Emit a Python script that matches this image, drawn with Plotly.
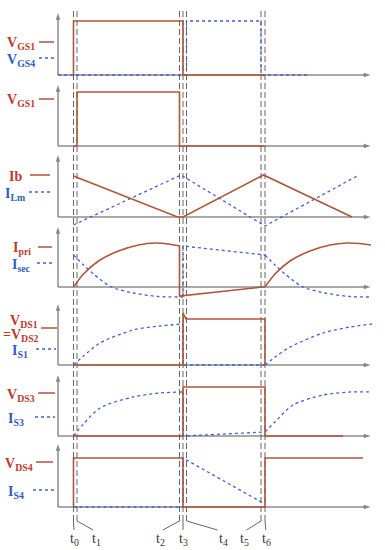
import plotly.graph_objects as go

# ---------------- data (time in arbitrary units, t0 = 0) ----------------
t_marks = [0, 3.5, 106, 109.5, 113, 187.5, 191.5]
t_labels = ["t<sub>0</sub>", "t<sub>1</sub>", "t<sub>2</sub>", "t<sub>3</sub>",
            "t<sub>4</sub>", "t<sub>5</sub>", "t<sub>6</sub>"]

# panel 1
vgs1_t = [0, 0, 109.5, 109.5, 191.5]
vgs1_v = [0, 54, 54, 0, 0]
vgs4_t = [-15.5, 113, 113, 187.5, 187.5, 236]
vgs4_v = [0, 0, 54, 54, 0, 0]
# panel 2
vgs1b_t = [0, 3.5, 3.5, 106, 106, 191.5]
vgs1b_v = [0, 0, 54, 54, 0, 0]
# panel 3
ib_t = [0, 104, 109.5, 190, 278.5]
ib_v = [41, 0, 0, 42, 0]
ilm_t = [0, 107.5, 191.5, 285.5]
ilm_v = [-8, 42, -9, 42]
# panel 4
ipri1_t = [0, 10, 25, 45, 65, 82, 95, 106]
ipri1_v = [0, 13, 26, 36, 42, 44, 43, 41]
ipri2_t = [106, 106, 189, 191.5]
ipri2_v = [41, -9, 0, 0]
ipri3_t = [191.5, 201.5, 216.5, 236.5, 256.5, 273.5, 286, 297.5]
ipri3_v = [0, 13, 26, 36, 42, 44, 43.5, 42]
isec1_t = [0, 10, 20, 38, 60, 85, 109.5]
isec1_v = [32, 22, 13, 0, -6, -9.5, -10]
isec2_t = [109.5, 109.5, 191.5]
isec2_v = [-10, 41, 32]
isec3_t = [191.5, 201.5, 211.5, 229.5, 251.5, 276.5, 298.5]
isec3_v = [32, 22, 13, 0, -6, -9.5, -10]
# panel 5
vds1_t = [0, 109.5, 109.5, 112.5, 191.5, 191.5]
vds1_v = [0, 0, 52, 46, 46, 0]
is1a_t = [0, 10, 26.5, 59.5, 86.5, 109.5]
is1a_v = [0, 9, 22, 35, 39, 41]
is1b_t = [109.5, 109.5, 191.5]
is1b_v = [41, 0, 0]
is1c_t = [191.5, 201.5, 216.5, 249.5, 276.5, 298.5]
is1c_v = [0, 8, 18, 32, 38, 41]
# panel 6
vds3_t = [0, 109.5, 109.5, 191.5, 191.5, 269.5]
vds3_v = [0, 0, 49, 49, 0, 0]
is3a_t = [0, 10, 26.5, 59.5, 86.5, 109.5]
is3a_v = [0, 12, 28, 39, 43, 44]
is3b_t = [109.5, 109.5, 191.5]
is3b_v = [44, 0, 4]
is3c_t = [191.5, 201.5, 219.5, 249.5, 276.5, 298.5]
is3c_v = [4, 14, 31, 41, 44, 44]
# panel 7
vds4_t = [0, 0, 109.5, 109.5, 191.5, 191.5, 289.5]
vds4_v = [0, 49, 49, 0, 0, 49, 49]
is4_t = [0, 109.5, 109.5, 189.5]
is4_v = [0, 0, 49, 4]

# ---------------- layout helpers ----------------
W, H = 385, 550
X_LEFT = -73.5          # time value at the left edge of the picture
AX_X0, AX_X1 = -15.5, 297
# (baseline px, arrow-top px) for each panel
panels = [(75, 13), (146, 85), (217, 155), (287, 227), (365, 304), (436, 375), (507, 444)]

SOLID = "#b0553a"
BLUE = "#3f63c9"
RED_TXT = "#c0392b"
BLUE_TXT = "#2f5cc0"
AXC = "#555555"

def py(px):
    return 1 - px / H

fig = go.Figure()

def yname(panel):
    return "y" if panel == 1 else f"y{panel}"

def add(panel, t, v, solid, shape="linear"):
    fig.add_trace(go.Scatter(
        x=t, y=v, mode="lines", xaxis="x", yaxis=yname(panel),
        line=dict(color=SOLID if solid else BLUE, width=1.6 if solid else 1.3,
                  dash="solid" if solid else "dot", shape=shape, smoothing=0.8),
        hoverinfo="skip", showlegend=False))

# axes with arrowheads (drawn first, under the signals)
for i, (base, top) in enumerate(panels, start=1):
    for xs, ys in (([AX_X0, AX_X0], [0, base - top]), ([AX_X0, AX_X1], [0, 0])):
        fig.add_trace(go.Scatter(
            x=xs, y=ys, mode="lines+markers", xaxis="x", yaxis=yname(i),
            line=dict(color=AXC, width=1),
            marker=dict(symbol=["circle", "arrow"], size=[0, 7], color=AXC, angleref="previous",
                        line=dict(width=0)),
            hoverinfo="skip", showlegend=False, cliponaxis=False))

add(1, vgs4_t, vgs4_v, False)
add(1, vgs1_t, vgs1_v, True)
add(2, vgs1b_t, vgs1b_v, True)
add(3, ilm_t, ilm_v, False)
add(3, ib_t, ib_v, True)
add(4, isec1_t, isec1_v, False, "spline")
add(4, isec2_t, isec2_v, False)
add(4, isec3_t, isec3_v, False, "spline")
add(4, ipri1_t, ipri1_v, True, "spline")
add(4, ipri2_t, ipri2_v, True)
add(4, ipri3_t, ipri3_v, True, "spline")
add(5, is1a_t, is1a_v, False, "spline")
add(5, is1b_t, is1b_v, False)
add(5, is1c_t, is1c_v, False, "spline")
add(5, vds1_t, vds1_v, True)
add(6, is3a_t, is3a_v, False, "spline")
add(6, is3b_t, is3b_v, False)
add(6, is3c_t, is3c_v, False, "spline")
add(6, vds3_t, vds3_v, True)
add(7, is4_t, is4_v, False)
add(7, vds4_t, vds4_v, True)

layout = dict(
    width=W, height=H, margin=dict(l=0, r=0, t=0, b=0),
    paper_bgcolor="white", plot_bgcolor="rgba(0,0,0,0)",
    xaxis=dict(domain=[0, 1], range=[X_LEFT, X_LEFT + W], visible=False, fixedrange=True),
)
annotations = []
shapes = []
for i, (base, top) in enumerate(panels, start=1):
    name = "yaxis" if i == 1 else f"yaxis{i}"
    lo_px, hi_px = base + 14, top - 6
    layout[name] = dict(domain=[py(lo_px), py(hi_px)], range=[base - lo_px, base - hi_px],
                        visible=False, fixedrange=True, anchor="x")

# dashed time markers
for tm in t_marks:
    shapes.append(dict(type="line", xref="x", yref="paper", x0=tm, x1=tm,
                       y0=py(521), y1=py(9), layer="below",
                       line=dict(color="#666666", width=1, dash="6px,3px")))

# time labels and leader lines
lab_px = [74, 96, 160, 183, 223, 244, 266]
for tm, lx, txt in zip(t_marks, lab_px, t_labels):
    annotations.append(dict(x=lx / W, y=py(539), xref="paper", yref="paper", text=txt,
                            xanchor="center", yanchor="middle",
                            showarrow=False, font=dict(family="Liberation Serif", size=14, color="#333")))
    shapes.append(dict(type="line", xref="x", yref="paper", x0=tm, x1=tm + (lx - 73.5 - tm) * 0.85,
                       y0=py(521), y1=py(530), line=dict(color="#666", width=1)))

# signal labels (text, px x right edge, px y, colour) and legend keys
labels = [
    ("V<sub>GS1</sub>", 37, 42, RED_TXT, True, 39, 54),
    ("V<sub>GS4</sub>", 37, 58, BLUE_TXT, False, 39, 55),
    ("V<sub>GS1</sub>", 37, 99, RED_TXT, True, 39, 54),
    ("Ib", 24, 175, RED_TXT, True, 30, 50),
    ("I<sub>Lm</sub>", 27, 192, BLUE_TXT, False, 29, 50),
    ("I<sub>pri</sub>", 33, 247, RED_TXT, True, 38, 52),
    ("I<sub>sec</sub>", 33, 263, BLUE_TXT, False, 37, 52),
    ("I<sub>S1</sub>", 30, 349, BLUE_TXT, False, 36, 56),
    ("V<sub>DS3</sub>", 37, 393, RED_TXT, True, 38, 55),
    ("I<sub>S3</sub>", 26, 417, BLUE_TXT, False, 35, 55),
    ("V<sub>DS4</sub>", 35, 462, RED_TXT, True, 36, 53),
    ("I<sub>S4</sub>", 26, 490, BLUE_TXT, False, 33, 55),
]
fnt = "Liberation Serif"

def label(txt, xr, yc, col):
    annotations.append(dict(x=xr / W, y=py(yc), xref="paper", yref="paper", text="<b>" + txt + "</b>",
                            xanchor="right", yanchor="middle", showarrow=False,
                            font=dict(family=fnt, size=14, color=col)))

for txt, xr, yc, col, solid, k0, k1 in labels:
    label(txt, xr, yc + 2, col)
    shapes.append(dict(type="line", xref="paper", yref="paper", x0=k0 / W, x1=k1 / W,
                       y0=py(yc), y1=py(yc),
                       line=dict(color=SOLID if solid else BLUE, width=1.5 if solid else 1.3,
                                 dash="solid" if solid else "dot")))
# VDS1 = VDS2 label
label("V<sub>DS1</sub>", 40, 321, RED_TXT)
label("=V<sub>DS2</sub>", 41, 335, RED_TXT)
shapes.append(dict(type="line", xref="paper", yref="paper", x0=41 / W, x1=57 / W,
                   y0=py(328), y1=py(328), line=dict(color=SOLID, width=1.5)))

layout["annotations"] = annotations
layout["shapes"] = shapes
fig.update_layout(**layout)
fig.write_html("out.html", config={"displayModeBar": False, "staticPlot": True},
               post_script="document.body.style.margin='0';document.body.style.overflow='hidden';")
